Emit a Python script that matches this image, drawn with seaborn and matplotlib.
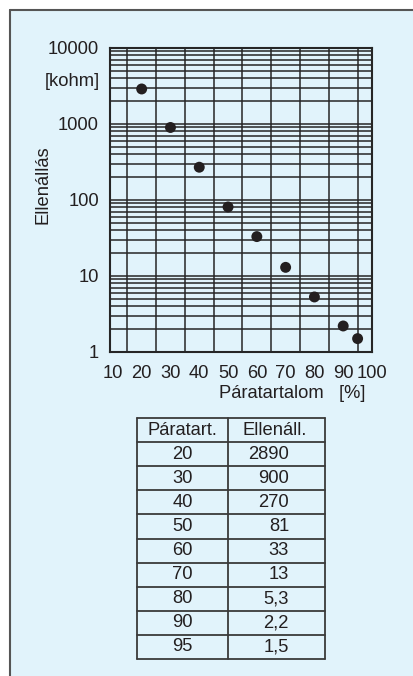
import numpy as np
import pandas as pd
import matplotlib
matplotlib.use('Agg')
import matplotlib.pyplot as plt
from matplotlib.lines import Line2D
from matplotlib.ticker import FixedLocator, NullFormatter
import seaborn as sns

# humidity [%] vs resistance [kohm]
paratartalom = [20, 30, 40, 50, 60, 70, 80, 90, 95]
ellenallas = [2890, 900, 270, 81, 33, 13, 5.3, 2.2, 1.5]
ellenallas_txt = ['2890', '900', '270', '81', '33', '13', '5,3', '2,2', '1,5']
x_ticks = list(range(10, 101, 10))
y_ticks = [1, 10, 100, 1000, 10000]

df = pd.DataFrame({'x': paratartalom, 'y': ellenallas})

sns.set_theme(style='white')
plt.rcParams['font.family'] = ['Liberation Sans', 'DejaVu Sans']

bg = '#E1F3FB'
ink = '#231F20'
line_c = '#262626'
fs = 13.2

W, H = 413, 676
fig = plt.figure(figsize=(W / 100, H / 100), dpi=100)
fig.patch.set_facecolor('white')

# light blue panel with left/top border
fig.patches.append(plt.Rectangle((9.5 / W, 0), 1, 1 - 10 / H, transform=fig.transFigure,
                                 facecolor=bg, edgecolor='none', zorder=-5))
fig.lines.append(Line2D([9.5 / W, 9.5 / W], [0, 1 - 10 / H], transform=fig.transFigure,
                        color='#555555', lw=1.5, zorder=-4))
fig.lines.append(Line2D([9.5 / W, 1], [1 - 10 / H, 1 - 10 / H], transform=fig.transFigure,
                        color='#555555', lw=1.5, zorder=-4))

# chart
ax = fig.add_axes([110 / W, 1 - 352 / H, (372 - 110) / W, (352 - 48) / H])
ax.set_facecolor(bg)
ax.set_yscale('log')
ax.set_xlim(9, 100)
ax.set_ylim(1, 10000)

ax.set_xticks(x_ticks)
ax.set_xticklabels([str(v) for v in x_ticks])
ax.xaxis.set_minor_locator(FixedLocator(np.arange(15, 101, 5)))
ax.set_yticks(y_ticks)
ax.set_yticklabels([str(v) for v in y_ticks])
ax.yaxis.set_minor_locator(FixedLocator([m * 10 ** d for d in range(4) for m in range(2, 10)]))
ax.yaxis.set_minor_formatter(NullFormatter())

ax.grid(False)
ax.xaxis.grid(True, which='minor', color=line_c, lw=1.1)
ax.yaxis.grid(True, which='both', color=line_c, lw=1.1)
ax.set_axisbelow(True)
ax.tick_params(which='both', length=0, labelsize=fs, colors=ink)
ax.tick_params(axis='y', pad=8)
ax.tick_params(axis='x', pad=9)
for s in ax.spines.values():
    s.set_color(line_c)
    s.set_linewidth(1.5)

sns.scatterplot(data=df, x='x', y='y', ax=ax, color=ink, s=62, edgecolor='none', zorder=5,
                clip_on=False)
ax.set_xlabel('')
ax.set_ylabel('')

fig.text(43 / W, 1 - 185 / H, 'Ellenállás', rotation=90, ha='center', va='center',
         fontsize=fs, color=ink)
fig.text(100 / W, 1 - 82 / H, '[kohm]', ha='right', va='center', fontsize=fs, color=ink)
fig.text(365 / W, 1 - 394 / H, 'Páratartalom   [%]', ha='right', va='center',
         fontsize=fs, color=ink)

# data table
tx0, tx1, ty0, ty1 = 137, 325, 418, 659
tab = fig.add_axes([tx0 / W, 1 - ty1 / H, (tx1 - tx0) / W, (ty1 - ty0) / H])
tab.set_facecolor(bg)
nrows = len(paratartalom) + 1
tab.set_xlim(0, tx1 - tx0)
tab.set_ylim(nrows, 0)
tab.axis('off')
div = 228 - tx0
for r in range(nrows + 1):
    tab.plot([0, tx1 - tx0], [r, r], color='#3a3a3a', lw=1.3, clip_on=False)
for c in [0, div, tx1 - tx0]:
    tab.plot([c, c], [0, nrows], color='#3a3a3a', lw=1.3, clip_on=False)

tab.text(div / 2, 0.5, 'Páratart.', ha='center', va='center', fontsize=fs, color=ink)
tab.text(275 - tx0, 0.5, 'Ellenáll.', ha='center', va='center', fontsize=fs, color=ink)
for i, (p, e) in enumerate(zip(paratartalom, ellenallas_txt)):
    tab.text(div / 2, i + 1.5, str(p), ha='center', va='center', fontsize=fs, color=ink)
    tab.text(289 - tx0, i + 1.5, e, ha='right', va='center', fontsize=fs, color=ink)

fig.savefig('out.png', dpi=100, facecolor=fig.get_facecolor())
